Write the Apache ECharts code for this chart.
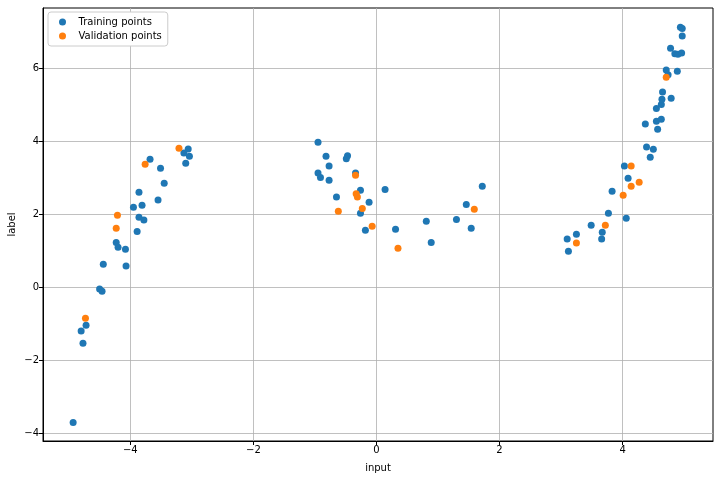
<!DOCTYPE html>
<html><head><meta charset="utf-8">
<script src="https://cdn.jsdelivr.net/npm/echarts@6/dist/echarts.min.js"></script>
<style>html,body{margin:0;padding:0;background:#fff}#c{width:719px;height:480px}</style>
</head><body><div id="c"></div>
<script>
const trainX = [-4.93,-4.77,-4.80,-4.72,-4.50,-4.46,-4.44,-4.07,-4.23,-4.20,-4.08,-3.89,-3.86,-3.78,-3.95,-3.81,-3.86,-3.55,-3.45,-3.51,-3.68,-3.06,-3.13,-3.04,-3.10,
  -0.95,-0.82,-0.47,-0.49,-0.77,-0.95,-0.91,-0.77,-0.34,-0.26,-0.65,-0.12,-0.26,-0.18,0.14,0.31,0.81,0.89,1.30,1.46,1.54,1.72,
  3.10,3.12,3.25,3.49,3.67,3.66,3.77,4.06,3.83,4.09,4.03,4.39,4.50,4.45,4.37,4.57,4.55,4.63,4.55,4.63,
  4.94,4.97,4.97,4.78,4.85,4.90,4.96,4.71,4.89,4.74,4.65,4.64,4.79];
const trainY = [-3.70,-1.53,-1.20,-1.04,-0.05,-0.11,0.63,0.58,1.23,1.10,1.04,1.53,1.92,1.84,2.19,2.25,2.60,2.39,2.85,3.26,3.51,3.79,3.68,3.59,3.40,
  3.97,3.59,3.60,3.52,3.32,3.13,3.01,2.93,3.13,2.66,2.47,2.33,2.03,1.56,2.68,1.59,1.81,1.23,1.86,2.27,1.62,2.77,
  1.32,0.99,1.45,1.70,1.51,1.32,2.03,1.89,2.63,2.99,3.32,3.84,3.78,3.56,4.47,4.33,4.55,4.60,4.90,5.01,
  7.12,7.09,6.88,6.55,6.40,6.38,6.42,5.95,5.92,5.82,5.35,5.15,5.18];
const valX = [-4.73,-4.21,-4.23,-3.76,-3.21,-0.34,-0.33,-0.31,-0.23,-0.62,-0.07,0.35,1.59,3.25,3.72,4.01,4.14,4.27,4.14,4.71];
const valY = [-0.85,1.97,1.62,3.37,3.81,3.07,2.56,2.47,2.16,2.08,1.67,1.07,2.14,1.21,1.70,2.52,2.77,2.88,3.32,5.75];
const xTicks = [-4,-2,0,2,4];
const yTicks = [-4,-2,0,2,4,6];
const seriesNames = ['Training points','Validation points'];
const colors = ['#1f77b4','#ff7f0e'];

const fmt = v => String(v).replace('-', '\u2212');
const zip = (a,b) => a.map((v,i)=>[v,b[i]]);
const chart = echarts.init(document.getElementById('c'), null, {renderer:'canvas'});
const axisCommon = (ticks) => ({
  type:'value',
  axisLine:{show:true, onZero:false, lineStyle:{color:'#000', width:1}},
  axisTick:{show:true, inside:false, length:4, lineStyle:{color:'#000'}, customValues:ticks},
  axisLabel:{show:true, color:'#000', fontSize:10, fontFamily:'DejaVu Sans', margin:4, formatter:fmt, customValues:ticks, showMinLabel:true, showMaxLabel:true},
  splitLine:{show:true, lineStyle:{color:'#b0b0b0', width:0.8}, customValues:ticks},
  nameTextStyle:{color:'#000', fontSize:10, fontFamily:'DejaVu Sans'}
});
chart.setOption({
  animation:false,
  color:colors,
  grid:{left:43, right:6, top:8, bottom:39, show:true, borderColor:'#000', borderWidth:1, backgroundColor:'transparent', outerBoundsMode:'none', containLabel:false},
  xAxis:Object.assign(axisCommon(xTicks), {min:-5.42, max:5.47, name:'input', nameLocation:'middle', nameGap:22}),
  yAxis:Object.assign(axisCommon(yTicks), {min:-4.21, max:7.65, name:'label', nameLocation:'middle', nameGap:26, nameMoveOverlap:false}),
  legend:{
    show:true, orient:'vertical', left:48, top:12,
    backgroundColor:'#fff', borderColor:'#cccccc', borderWidth:1, borderRadius:3,
    padding:[5,6,5,11], itemGap:4, itemWidth:22, itemHeight:7,
    textStyle:{color:'#000', fontSize:10, fontFamily:'DejaVu Sans'},
    data:[{name:seriesNames[0], icon:'circle'},{name:seriesNames[1], icon:'circle'}]
  },
  series:[
    {name:seriesNames[0], type:'scatter', symbol:'circle', symbolSize:7, data:zip(trainX,trainY), itemStyle:{color:colors[0], opacity:1}},
    {name:seriesNames[1], type:'scatter', symbol:'circle', symbolSize:7, data:zip(valX,valY), itemStyle:{color:colors[1], opacity:1}}
  ]
});
</script></body></html>
